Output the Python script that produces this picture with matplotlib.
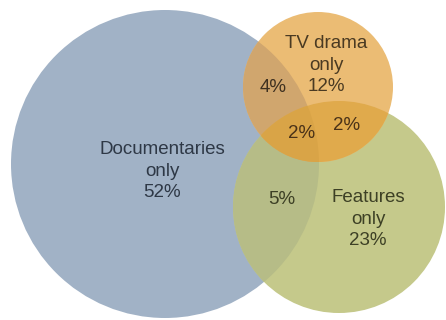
import matplotlib
matplotlib.use("Agg")
import matplotlib.pyplot as plt
import numpy as np
from matplotlib.patches import Circle, Polygon

# Share of viewers by genre overlap (percent)
sets = ["Documentaries", "TV drama", "Features"]
only_pct = [52, 12, 23]
doc_tv_pct = 4
doc_feat_pct = 5
tv_feat_pct = 2
all_three_pct = 2

# circle layout in pixel units (y grows downward)
centers = {"Documentaries": (165, 164), "TV drama": (318, 87), "Features": (339, 207)}
radii = {"Documentaries": 154, "TV drama": 75, "Features": 106}
fills = {"Documentaries": "#a1b2c6", "TV drama": "#ebbc74", "Features": "#c5c98b"}

fig = plt.figure(figsize=(4.46, 3.2), dpi=100)
ax = fig.add_axes([0, 0, 1, 1])
ax.set_xlim(0, 446)
ax.set_ylim(320, 0)
ax.set_aspect("equal")
ax.axis("off")


def circle(name, **kw):
    return Circle(centers[name], radii[name], lw=0, **kw)


def lens(a, b, n=400):
    """Polygon outlining the overlap of circles a and b."""
    pts = []
    for p, q in [(a, b), (b, a)]:
        t = np.linspace(0, 2 * np.pi, n)
        cx, cy = centers[p]
        xy = np.column_stack([cx + radii[p] * np.cos(t), cy + radii[p] * np.sin(t)])
        qx, qy = centers[q]
        inside = np.hypot(xy[:, 0] - qx, xy[:, 1] - qy) <= radii[q]
        pts.append(xy[inside])
    pts = np.vstack(pts)
    mid = pts.mean(axis=0)
    order = np.argsort(np.arctan2(pts[:, 1] - mid[1], pts[:, 0] - mid[0]))
    return pts[order]


for name in ["Documentaries", "Features", "TV drama"]:
    ax.add_patch(circle(name, color=fills[name], zorder=1))

# pairwise overlaps, each clipped to the second circle
overlaps = [
    ("Documentaries", "Features", "#b6bc87"),
    ("Documentaries", "TV drama", "#d0a66e"),
    ("Features", "TV drama", "#e0aa4c"),
]
for a, b, col in overlaps:
    p = circle(a, color=col, zorder=2)
    ax.add_patch(p)
    clip = circle(b, fill=False)
    ax.add_patch(clip)
    p.set_clip_path(clip)

# region shared by all three
tri = Polygon(lens("TV drama", "Features"), closed=True, lw=0, color="#d9a447", zorder=3)
ax.add_patch(tri)
doc_clip = circle("Documentaries", fill=False)
ax.add_patch(doc_clip)
tri.set_clip_path(doc_clip)

font = dict(family="Liberation Sans", fontsize=13.5, ha="center", va="center", zorder=5)


def stacked(x, y, lines, color, step=21.5):
    # one text per line so the block stays tight around each row
    for i, s in enumerate(lines):
        ax.text(x, y + (i - 1) * step, s, color=color, **font)


stacked(162, 171, [sets[0], "only", f"{only_pct[0]}%"], "#2e3846")
stacked(326, 65, [sets[1], "only", f"{only_pct[1]}%"], "#4a3a22")
stacked(368, 219, [sets[2], "only", f"{only_pct[2]}%"], "#3d4025")
ax.text(273, 88, f"{doc_tv_pct}%", color="#3e3020", **font)
ax.text(302, 133, f"{all_three_pct}%", color="#4a3218", **font)
ax.text(347, 125, f"{tv_feat_pct}%", color="#4a3218", **font)
ax.text(282, 200, f"{doc_feat_pct}%", color="#3d4025", **font)

fig.savefig("out.png", dpi=100)
